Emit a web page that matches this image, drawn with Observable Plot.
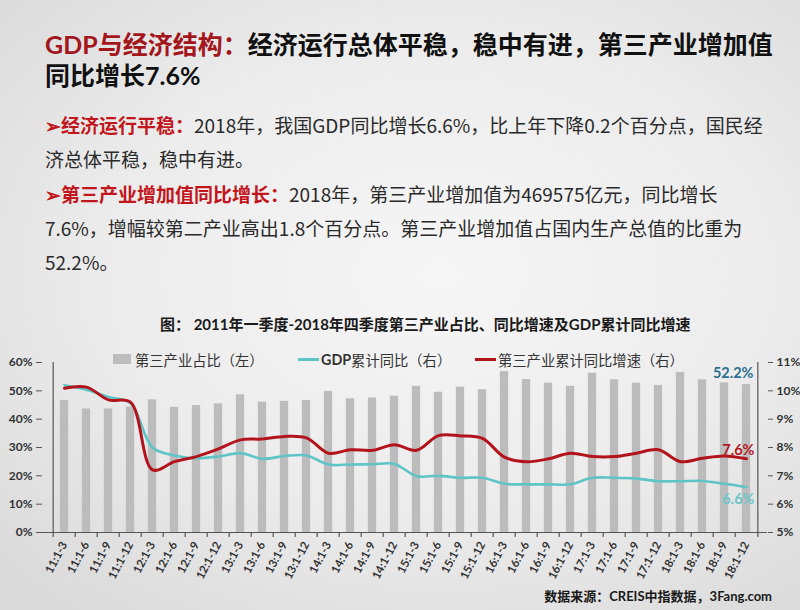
<!DOCTYPE html>
<html>
<head>
<meta charset="utf-8">
<script src="https://cdn.jsdelivr.net/npm/d3@7"></script>
<script src="https://cdn.jsdelivr.net/npm/@observablehq/plot@0.6"></script>
<style>
  html, body { margin: 0; padding: 0; }
  body {
    width: 800px; height: 610px; position: relative; overflow: hidden;
    background: radial-gradient(ellipse 75% 70% at 55% 45%, #f6f6f6 0%, #ececec 55%, #dadada 100%);
    font-family: "Noto Sans CJK SC", "Noto Sans", sans-serif;
  }
  .abs { position: absolute; white-space: nowrap; }
  #title { left: 45px; top: 29px; font-family: Lato, "Noto Sans CJK SC", sans-serif; font-size: 25px; font-weight: 700; line-height: 31px; color: #111; }
  #title .red { color: #a3161c; }
  #para { left: 45px; top: 108px; font-family: "Liberation Sans Narrow", "Noto Sans CJK SC", sans-serif; font-size: 19px; line-height: 34.3px; color: #2a2a2a; }
  #para .red { color: #c3151c; font-weight: 700; font-family: "Noto Sans CJK SC", sans-serif; }
  #ctitle { left: 160px; top: 313px; font-family: Lato, "Noto Sans CJK SC", sans-serif; font-size: 15px; font-weight: 700; color: #1a1a1a; }
  #legend { left: 113px; top: 349px; font-size: 14.3px; color: #333; }
  .lg { position: absolute; top: 0; display: flex; align-items: center; height: 20px; }
  .sw-bar { width: 18px; height: 10px; background: #bdbdbd; margin-right: 4px; }
  .sw-line { width: 21px; height: 3px; margin-right: 2px; }
  #foot { right: 28px; top: 586px; font-family: Lato, "Noto Sans CJK SC", sans-serif; font-size: 13px; font-weight: 700; color: #1a1a1a; }
  #chart { position: absolute; left: 0; top: 340px; }
</style>
</head>
<body>
<div id="title" class="abs"><span class="red">GDP与经济结构：</span>经济运行总体平稳，稳中有进，第三产业增加值<br>同比增长7.6%</div>
<div id="para" class="abs"><span class="red">➢经济运行平稳：</span>2018年，我国GDP同比增长6.6%，比上年下降0.2个百分点，国民经<br>济总体平稳，稳中有进。<br><span class="red">➢第三产业增加值同比增长：</span>2018年，第三产业增加值为469575亿元，同比增长<br>7.6%，增幅较第二产业高出1.8个百分点。第三产业增加值占国内生产总值的比重为<br>52.2%。</div>
<div id="ctitle" class="abs">图： 2011年一季度-2018年四季度第三产业占比、同比增速及GDP累计同比增速</div>
<div id="legend" class="abs">
  <div class="lg" style="left:0px"><div class="sw-bar"></div>第三产业占比（左）</div>
  <div class="lg" style="left:185px"><div class="sw-line" style="background:#5ec4c6"></div><b style="font-family:Lato,sans-serif">GDP</b>累计同比（右）</div>
  <div class="lg" style="left:362px"><div class="sw-line" style="background:#b3141c"></div>第三产业累计同比增速（右）</div>
</div>
<div id="chart"></div>
<div id="foot" class="abs">数据来源：CREIS中指数据，3Fang.com</div>
<script>
// Quarter labels (cumulative periods)
const periods = [
  "11:1-3","11:1-6","11:1-9","11:1-12",
  "12:1-3","12:1-6","12:1-9","12:1-12",
  "13:1-3","13:1-6","13:1-9","13:1-12",
  "14:1-3","14:1-6","14:1-9","14:1-12",
  "15:1-3","15:1-6","15:1-9","15:1-12",
  "16:1-3","16:1-6","16:1-9","16:1-12",
  "17:1-3","17:1-6","17:1-9","17:1-12",
  "18:1-3","18:1-6","18:1-9","18:1-12"
];
// 第三产业占比（左轴, %）
const tertiaryShare = [
  46.6, 43.6, 43.6, 44.3,
  46.8, 44.2, 44.8, 45.4,
  48.6, 46.0, 46.3, 46.6,
  49.8, 47.2, 47.5, 48.1,
  51.6, 49.5, 51.3, 50.4,
  56.8, 54.0, 52.7, 51.6,
  56.2, 53.9, 52.7, 51.9,
  56.5, 53.9, 52.8, 52.2
];
// GDP累计同比（右轴, %）
const gdpGrowth = [
  10.2, 10.04, 9.78, 9.56,
  8.0, 7.72, 7.62, 7.68,
  7.8, 7.6, 7.7, 7.72,
  7.4, 7.4, 7.41, 7.42,
  6.99, 7.0, 6.93, 6.93,
  6.72, 6.7, 6.7, 6.7,
  6.93, 6.93, 6.9, 6.81,
  6.81, 6.82, 6.72, 6.6
];
// 第三产业累计同比增速（右轴, %）
const tertiaryGrowth = [
  10.09, 10.13, 9.68, 9.6,
  7.21, 7.5, 7.68, 7.95,
  8.27, 8.3, 8.39, 8.34,
  7.8, 7.92, 7.9, 8.1,
  7.9, 8.42, 8.41, 8.32,
  7.66, 7.5, 7.6, 7.8,
  7.68, 7.68, 7.8, 7.92,
  7.5, 7.62, 7.7, 7.6
];
const leftTicks = [0, 10, 20, 30, 40, 50, 60];      // %
const rightTicks = [5, 6, 7, 8, 9, 10, 11];        // %

// right axis value -> left axis units (5%..11% spans 0..60)
const toLeft = v => (v - 5) * 10;
const fromLeft = u => u / 10 + 5;

const W = 800, H = 270, mL = 42, mR = 33, mT = 22, mB = 78;
const bw = (W - mL - mR) / periods.length;
const last = periods.length - 1;
const idx = d3.range(periods.length);

const tickFont = {fontFamily: "Lato, sans-serif", fontWeight: 700, fontSize: 12, fill: "#333"};

const chart = Plot.plot({
  width: W, height: H,
  marginLeft: mL, marginRight: mR, marginTop: mT, marginBottom: mB,
  style: {background: "transparent", overflow: "visible"},
  x: {type: "band", domain: periods, padding: 0},
  y: {domain: [0, 60]},
  marks: [
    Plot.barY(idx, {x: i => periods[i], y: i => tertiaryShare[i], fill: "#bcbcbc",
      insetLeft: (bw - 9) / 2, insetRight: (bw - 9) / 2}),
    Plot.lineY(idx, {x: i => periods[i], y: i => toLeft(gdpGrowth[i]), stroke: "#5ec4c6",
      strokeWidth: 2.6, curve: "catmull-rom"}),
    Plot.lineY(idx, {x: i => periods[i], y: i => toLeft(tertiaryGrowth[i]), stroke: "#b3141c",
      strokeWidth: 3, curve: "catmull-rom"}),
    // axis lines
    Plot.ruleY([0], {stroke: "#555", strokeWidth: 1.2}),
    Plot.ruleX([periods[0]], {dx: -bw / 2, y1: 0, y2: 60, stroke: "#555", strokeWidth: 1.2}),
    Plot.ruleX([periods[last]], {dx: bw / 2, y1: 0, y2: 60, stroke: "#555", strokeWidth: 1.2}),
    // category boundary ticks on x axis
    Plot.ruleX(periods, {dx: -bw / 2, y1: 0, y2: -1.8, stroke: "#555", strokeWidth: 1.2}),
    Plot.ruleX([periods[last]], {dx: bw / 2, y1: 0, y2: -1.8, stroke: "#555", strokeWidth: 1.2}),
    Plot.axisY({anchor: "left", ticks: leftTicks, tickFormat: d => d + "%", tickSize: 6,
      tickPadding: 4, stroke: "#555", label: null, ...tickFont}),
    Plot.axisY({anchor: "right", ticks: rightTicks.map(toLeft), tickFormat: d => fromLeft(d) + "%",
      tickSize: 5, tickPadding: 4, stroke: "#555", label: null, ...tickFont}),
    Plot.axisX({tickRotate: -62, tickSize: 0, tickPadding: 10, label: null,
      fontFamily: "Lato, sans-serif", fontWeight: 700, fontSize: 11.5, fill: "#333"}),
    // end labels
    Plot.text([last], {x: i => periods[i], y: i => tertiaryShare[i], text: i => tertiaryShare[i].toFixed(1) + "%",
      textAnchor: "end", dx: 7, dy: -11, fill: "#2a6f8f", fontSize: 14.5, fontWeight: 700, fontFamily: "Lato, sans-serif"}),
    Plot.text([last], {x: i => periods[i], y: i => toLeft(tertiaryGrowth[i]), text: i => tertiaryGrowth[i].toFixed(1) + "%",
      textAnchor: "end", dx: 8, dy: -8, fill: "#b5181f", fontSize: 14.5, fontWeight: 700, fontFamily: "Lato, sans-serif"}),
    Plot.text([last], {x: i => periods[i], y: i => toLeft(gdpGrowth[i]), text: i => gdpGrowth[i].toFixed(1) + "%",
      textAnchor: "end", dx: 8, dy: 12, fill: "#6cc4c8", fontSize: 14.5, fontWeight: 700, fontFamily: "Lato, sans-serif"})
  ]
});
document.getElementById("chart").appendChild(chart);
</script>
</body>
</html>
